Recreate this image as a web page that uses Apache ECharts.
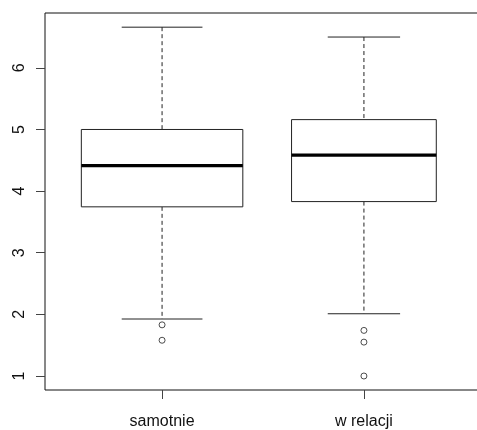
<!DOCTYPE html>
<html>
<head>
<meta charset="utf-8">
<script src="https://cdn.jsdelivr.net/npm/echarts@6/dist/echarts.min.js"></script>
<style>html,body{margin:0;padding:0;background:#fff}#c{width:477px;height:430px}</style>
</head>
<body>
<div id="c"></div>
<script>
// ---- data ----
const categories = ['samotnie', 'w relacji'];
const whiskerLow = [1.925, 2.01];
const q1 = [3.745, 3.83];
const median = [4.415, 4.583];
const q3 = [5.0, 5.16];
const whiskerHigh = [6.66, 6.5];
const outliersSamotnie = [1.83, 1.58];
const outliersWRelacji = [1.74, 1.55, 1.0];
const yTicks = [1, 2, 3, 4, 5, 6];

// ---- sizes (box widths in axis units) ----
const BOX_W = [0.8, 0.717];

const boxData = categories.map((c, i) => [i + 1, whiskerLow[i], q1[i], median[i], q3[i], whiskerHigh[i]]);
const outlierData = [];
outliersSamotnie.forEach(v => outlierData.push([1, v]));
outliersWRelacji.forEach(v => outlierData.push([2, v]));

const LINE = '#222';
const chart = echarts.init(document.getElementById('c'), null, {renderer: 'canvas'});
chart.setOption({
  animation: false,
  backgroundColor: '#fff',
  grid: {left: 45, top: 13, right: -4, bottom: 40, show: true, borderColor: '#111', borderWidth: 1, outerBoundsMode: 'none', containLabel: false},
  xAxis: {
    type: 'value', min: 0.42, max: 2.58,
    splitLine: {show: false},
    axisLine: {show: false},
    axisTick: {show: true, length: 9, customValues: [1, 2], lineStyle: {color: '#444'}},
    axisLabel: {customValues: [1, 2], margin: 24, fontSize: 16, color: '#111', fontFamily: 'Liberation Sans, Arial, sans-serif',
      formatter: v => categories[Math.round(v) - 1] || ''}
  },
  yAxis: {
    type: 'value', min: 0.773, max: 6.89,
    splitLine: {show: false},
    axisLine: {show: false},
    axisTick: {show: true, length: 9, customValues: yTicks, lineStyle: {color: '#444'}},
    axisLabel: {customValues: yTicks, rotate: 90, margin: 17, fontSize: 16, color: '#111', fontFamily: 'Liberation Sans, Arial, sans-serif'}
  },
  series: [
    {
      type: 'custom',
      data: boxData,
      encode: {x: 0, y: [1, 2, 3, 4, 5]},
      renderItem: function (params, api) {
        const i = api.value(0);
        const x = api.coord([i, 0])[0];
        const unit = api.size([1, 0])[0];
        const hw = BOX_W[params.dataIndex] * unit / 2;
        const y = v => api.coord([i, v])[1];
        const lo = y(api.value(1)), b = y(api.value(2)), m = y(api.value(3)), t = y(api.value(4)), hi = y(api.value(5));
        const solid = {stroke: LINE, lineWidth: 1, fill: null};
        const dash = {stroke: LINE, lineWidth: 1, lineDash: [4, 3]};
        return {
          type: 'group',
          children: [
            {type: 'line', shape: {x1: x, y1: hi, x2: x, y2: t}, style: dash},
            {type: 'line', shape: {x1: x, y1: b, x2: x, y2: lo}, style: dash},
            {type: 'line', shape: {x1: x - hw / 2, y1: hi, x2: x + hw / 2, y2: hi}, style: solid},
            {type: 'line', shape: {x1: x - hw / 2, y1: lo, x2: x + hw / 2, y2: lo}, style: solid},
            {type: 'rect', shape: {x: x - hw, y: t, width: 2 * hw, height: b - t}, style: {stroke: LINE, lineWidth: 1, fill: '#fff'}},
            {type: 'line', shape: {x1: x - hw, y1: m, x2: x + hw, y2: m}, style: {stroke: '#000', lineWidth: 3.2}}
          ]
        };
      }
    },
    {
      type: 'scatter',
      data: outlierData,
      symbol: 'circle',
      symbolSize: 6,
      itemStyle: {color: '#fff', borderColor: LINE, borderWidth: 1},
      z: 5
    }
  ]
});
</script>
</body>
</html>
